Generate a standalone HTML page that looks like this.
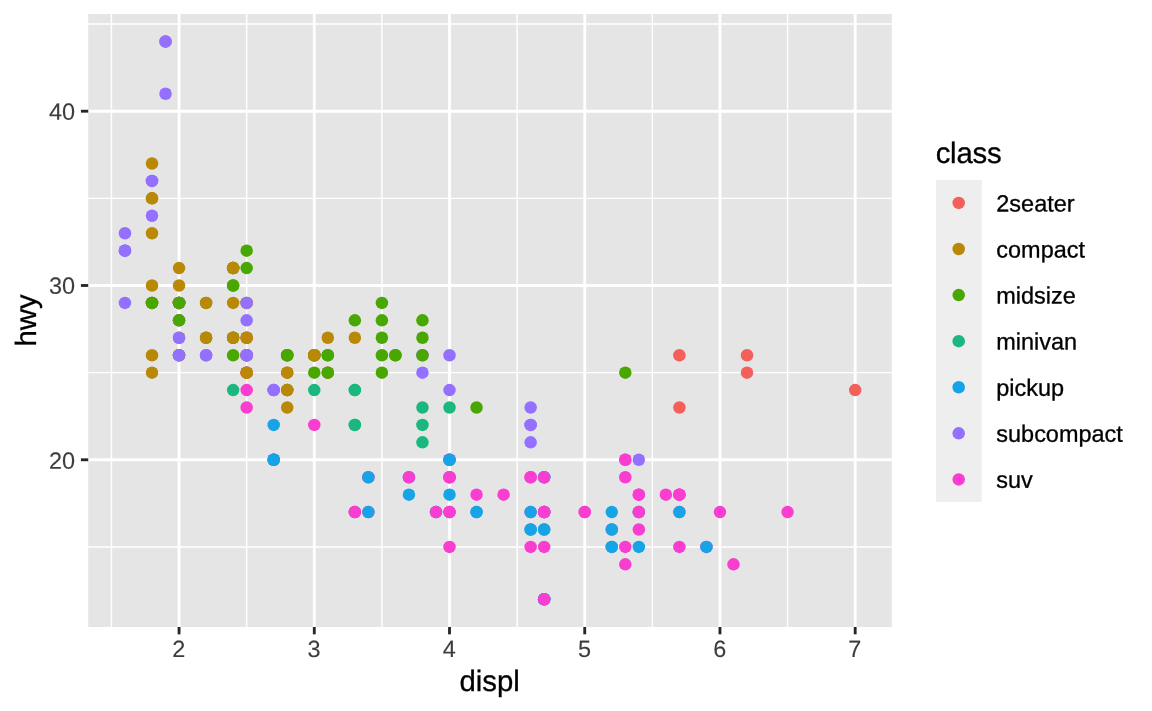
<!DOCTYPE html>
<html lang="en">
<head>
<meta charset="utf-8">
<title>displ vs hwy by class</title>
<style>
html,body{margin:0;padding:0;background:#ffffff;}
body{width:1152px;height:711px;overflow:hidden;}
svg{display:block;}
text{font-family:"Liberation Sans",Arial,Helvetica,sans-serif;}
.ax{font-size:23.47px;fill:#3d3d3d;stroke:#3d3d3d;stroke-width:0.12px;}
.ti{font-size:29.33px;fill:#000000;stroke:#000000;stroke-width:0.3px;}
.lg{font-size:23.47px;fill:#000000;stroke:#000000;stroke-width:0.3px;}
</style>
</head>
<body>
<svg width="1152" height="711" viewBox="0 0 1152 711">
<rect x="0" y="0" width="1152" height="711" fill="#ffffff"/>
<rect x="88.25" y="14" width="803.55" height="613" fill="#e5e5e5"/>
<g stroke="#ffffff" stroke-width="1.42" fill="none">
<line x1="88.25" x2="891.8" y1="546.93" y2="546.93"/>
<line x1="88.25" x2="891.8" y1="372.64" y2="372.64"/>
<line x1="88.25" x2="891.8" y1="198.35" y2="198.35"/>
<line x1="88.25" x2="891.8" y1="24.06" y2="24.06"/>
<line x1="111.44" x2="111.44" y1="14" y2="627"/>
<line x1="246.67" x2="246.67" y1="14" y2="627"/>
<line x1="381.89" x2="381.89" y1="14" y2="627"/>
<line x1="517.12" x2="517.12" y1="14" y2="627"/>
<line x1="652.35" x2="652.35" y1="14" y2="627"/>
<line x1="787.58" x2="787.58" y1="14" y2="627"/>
</g>
<g stroke="#ffffff" stroke-width="2.85" fill="none">
<line x1="88.25" x2="891.8" y1="459.78" y2="459.78"/>
<line x1="88.25" x2="891.8" y1="285.49" y2="285.49"/>
<line x1="88.25" x2="891.8" y1="111.2" y2="111.2"/>
<line x1="179.05" x2="179.05" y1="14" y2="627"/>
<line x1="314.28" x2="314.28" y1="14" y2="627"/>
<line x1="449.51" x2="449.51" y1="14" y2="627"/>
<line x1="584.73" x2="584.73" y1="14" y2="627"/>
<line x1="719.96" x2="719.96" y1="14" y2="627"/>
<line x1="855.19" x2="855.19" y1="14" y2="627"/>
</g>
<g>
<circle cx="152.01" cy="302.92" r="6.25" fill="#b88806"/>
<circle cx="152.01" cy="302.92" r="6.25" fill="#b88806"/>
<circle cx="179.05" cy="268.06" r="6.25" fill="#b88806"/>
<circle cx="179.05" cy="285.49" r="6.25" fill="#b88806"/>
<circle cx="287.23" cy="355.21" r="6.25" fill="#b88806"/>
<circle cx="287.23" cy="355.21" r="6.25" fill="#b88806"/>
<circle cx="327.8" cy="337.78" r="6.25" fill="#b88806"/>
<circle cx="152.01" cy="355.21" r="6.25" fill="#b88806"/>
<circle cx="152.01" cy="372.64" r="6.25" fill="#b88806"/>
<circle cx="179.05" cy="320.35" r="6.25" fill="#b88806"/>
<circle cx="179.05" cy="337.78" r="6.25" fill="#b88806"/>
<circle cx="287.23" cy="372.64" r="6.25" fill="#b88806"/>
<circle cx="287.23" cy="372.64" r="6.25" fill="#b88806"/>
<circle cx="327.8" cy="372.64" r="6.25" fill="#b88806"/>
<circle cx="327.8" cy="372.64" r="6.25" fill="#b88806"/>
<circle cx="287.23" cy="390.07" r="6.25" fill="#48a702"/>
<circle cx="327.8" cy="372.64" r="6.25" fill="#48a702"/>
<circle cx="476.55" cy="407.49" r="6.25" fill="#48a702"/>
<circle cx="625.3" cy="459.78" r="6.25" fill="#f93dd0"/>
<circle cx="625.3" cy="546.93" r="6.25" fill="#f93dd0"/>
<circle cx="625.3" cy="459.78" r="6.25" fill="#f93dd0"/>
<circle cx="679.39" cy="512.07" r="6.25" fill="#f93dd0"/>
<circle cx="719.96" cy="512.07" r="6.25" fill="#f93dd0"/>
<circle cx="679.39" cy="355.21" r="6.25" fill="#f35f5a"/>
<circle cx="679.39" cy="407.49" r="6.25" fill="#f35f5a"/>
<circle cx="747.01" cy="355.21" r="6.25" fill="#f35f5a"/>
<circle cx="747.01" cy="372.64" r="6.25" fill="#f35f5a"/>
<circle cx="855.19" cy="390.07" r="6.25" fill="#f35f5a"/>
<circle cx="625.3" cy="477.21" r="6.25" fill="#f93dd0"/>
<circle cx="625.3" cy="564.36" r="6.25" fill="#f93dd0"/>
<circle cx="679.39" cy="546.93" r="6.25" fill="#f93dd0"/>
<circle cx="787.58" cy="512.07" r="6.25" fill="#f93dd0"/>
<circle cx="233.14" cy="337.78" r="6.25" fill="#48a702"/>
<circle cx="233.14" cy="285.49" r="6.25" fill="#48a702"/>
<circle cx="327.8" cy="355.21" r="6.25" fill="#48a702"/>
<circle cx="381.89" cy="302.92" r="6.25" fill="#48a702"/>
<circle cx="395.42" cy="355.21" r="6.25" fill="#48a702"/>
<circle cx="233.14" cy="390.07" r="6.25" fill="#1ab77f"/>
<circle cx="314.28" cy="390.07" r="6.25" fill="#1ab77f"/>
<circle cx="354.85" cy="424.92" r="6.25" fill="#1ab77f"/>
<circle cx="354.85" cy="424.92" r="6.25" fill="#1ab77f"/>
<circle cx="354.85" cy="390.07" r="6.25" fill="#1ab77f"/>
<circle cx="354.85" cy="390.07" r="6.25" fill="#1ab77f"/>
<circle cx="354.85" cy="512.07" r="6.25" fill="#1ab77f"/>
<circle cx="422.46" cy="424.92" r="6.25" fill="#1ab77f"/>
<circle cx="422.46" cy="442.35" r="6.25" fill="#1ab77f"/>
<circle cx="422.46" cy="407.49" r="6.25" fill="#1ab77f"/>
<circle cx="449.51" cy="407.49" r="6.25" fill="#1ab77f"/>
<circle cx="408.94" cy="477.21" r="6.25" fill="#16a4e6"/>
<circle cx="408.94" cy="494.64" r="6.25" fill="#16a4e6"/>
<circle cx="435.98" cy="512.07" r="6.25" fill="#16a4e6"/>
<circle cx="435.98" cy="512.07" r="6.25" fill="#16a4e6"/>
<circle cx="544.17" cy="477.21" r="6.25" fill="#16a4e6"/>
<circle cx="544.17" cy="477.21" r="6.25" fill="#16a4e6"/>
<circle cx="544.17" cy="599.21" r="6.25" fill="#16a4e6"/>
<circle cx="611.78" cy="512.07" r="6.25" fill="#16a4e6"/>
<circle cx="611.78" cy="546.93" r="6.25" fill="#16a4e6"/>
<circle cx="435.98" cy="512.07" r="6.25" fill="#f93dd0"/>
<circle cx="544.17" cy="512.07" r="6.25" fill="#f93dd0"/>
<circle cx="544.17" cy="599.21" r="6.25" fill="#f93dd0"/>
<circle cx="544.17" cy="512.07" r="6.25" fill="#f93dd0"/>
<circle cx="611.78" cy="529.5" r="6.25" fill="#f93dd0"/>
<circle cx="679.39" cy="494.64" r="6.25" fill="#f93dd0"/>
<circle cx="706.44" cy="546.93" r="6.25" fill="#f93dd0"/>
<circle cx="544.17" cy="529.5" r="6.25" fill="#16a4e6"/>
<circle cx="544.17" cy="599.21" r="6.25" fill="#16a4e6"/>
<circle cx="544.17" cy="512.07" r="6.25" fill="#16a4e6"/>
<circle cx="544.17" cy="512.07" r="6.25" fill="#16a4e6"/>
<circle cx="544.17" cy="529.5" r="6.25" fill="#16a4e6"/>
<circle cx="544.17" cy="599.21" r="6.25" fill="#16a4e6"/>
<circle cx="611.78" cy="546.93" r="6.25" fill="#16a4e6"/>
<circle cx="611.78" cy="529.5" r="6.25" fill="#16a4e6"/>
<circle cx="679.39" cy="512.07" r="6.25" fill="#16a4e6"/>
<circle cx="706.44" cy="546.93" r="6.25" fill="#16a4e6"/>
<circle cx="530.64" cy="512.07" r="6.25" fill="#f93dd0"/>
<circle cx="638.83" cy="512.07" r="6.25" fill="#f93dd0"/>
<circle cx="638.83" cy="494.64" r="6.25" fill="#f93dd0"/>
<circle cx="449.51" cy="512.07" r="6.25" fill="#f93dd0"/>
<circle cx="449.51" cy="477.21" r="6.25" fill="#f93dd0"/>
<circle cx="449.51" cy="512.07" r="6.25" fill="#f93dd0"/>
<circle cx="449.51" cy="477.21" r="6.25" fill="#f93dd0"/>
<circle cx="530.64" cy="477.21" r="6.25" fill="#f93dd0"/>
<circle cx="584.73" cy="512.07" r="6.25" fill="#f93dd0"/>
<circle cx="476.55" cy="512.07" r="6.25" fill="#16a4e6"/>
<circle cx="476.55" cy="512.07" r="6.25" fill="#16a4e6"/>
<circle cx="530.64" cy="529.5" r="6.25" fill="#16a4e6"/>
<circle cx="530.64" cy="529.5" r="6.25" fill="#16a4e6"/>
<circle cx="530.64" cy="512.07" r="6.25" fill="#16a4e6"/>
<circle cx="638.83" cy="546.93" r="6.25" fill="#16a4e6"/>
<circle cx="638.83" cy="512.07" r="6.25" fill="#16a4e6"/>
<circle cx="422.46" cy="355.21" r="6.25" fill="#9370ff"/>
<circle cx="422.46" cy="372.64" r="6.25" fill="#9370ff"/>
<circle cx="449.51" cy="355.21" r="6.25" fill="#9370ff"/>
<circle cx="449.51" cy="390.07" r="6.25" fill="#9370ff"/>
<circle cx="530.64" cy="442.35" r="6.25" fill="#9370ff"/>
<circle cx="530.64" cy="424.92" r="6.25" fill="#9370ff"/>
<circle cx="530.64" cy="407.49" r="6.25" fill="#9370ff"/>
<circle cx="530.64" cy="424.92" r="6.25" fill="#9370ff"/>
<circle cx="638.83" cy="459.78" r="6.25" fill="#9370ff"/>
<circle cx="124.96" cy="233.21" r="6.25" fill="#9370ff"/>
<circle cx="124.96" cy="250.63" r="6.25" fill="#9370ff"/>
<circle cx="124.96" cy="250.63" r="6.25" fill="#9370ff"/>
<circle cx="124.96" cy="302.92" r="6.25" fill="#9370ff"/>
<circle cx="124.96" cy="250.63" r="6.25" fill="#9370ff"/>
<circle cx="152.01" cy="215.78" r="6.25" fill="#9370ff"/>
<circle cx="152.01" cy="180.92" r="6.25" fill="#9370ff"/>
<circle cx="152.01" cy="180.92" r="6.25" fill="#9370ff"/>
<circle cx="179.05" cy="302.92" r="6.25" fill="#9370ff"/>
<circle cx="233.14" cy="355.21" r="6.25" fill="#48a702"/>
<circle cx="233.14" cy="337.78" r="6.25" fill="#48a702"/>
<circle cx="233.14" cy="285.49" r="6.25" fill="#48a702"/>
<circle cx="233.14" cy="268.06" r="6.25" fill="#48a702"/>
<circle cx="246.67" cy="355.21" r="6.25" fill="#48a702"/>
<circle cx="246.67" cy="355.21" r="6.25" fill="#48a702"/>
<circle cx="354.85" cy="320.35" r="6.25" fill="#48a702"/>
<circle cx="179.05" cy="355.21" r="6.25" fill="#9370ff"/>
<circle cx="179.05" cy="302.92" r="6.25" fill="#9370ff"/>
<circle cx="179.05" cy="320.35" r="6.25" fill="#9370ff"/>
<circle cx="179.05" cy="337.78" r="6.25" fill="#9370ff"/>
<circle cx="273.71" cy="390.07" r="6.25" fill="#9370ff"/>
<circle cx="273.71" cy="390.07" r="6.25" fill="#9370ff"/>
<circle cx="273.71" cy="390.07" r="6.25" fill="#9370ff"/>
<circle cx="314.28" cy="424.92" r="6.25" fill="#f93dd0"/>
<circle cx="408.94" cy="477.21" r="6.25" fill="#f93dd0"/>
<circle cx="449.51" cy="459.78" r="6.25" fill="#f93dd0"/>
<circle cx="544.17" cy="512.07" r="6.25" fill="#f93dd0"/>
<circle cx="544.17" cy="599.21" r="6.25" fill="#f93dd0"/>
<circle cx="544.17" cy="477.21" r="6.25" fill="#f93dd0"/>
<circle cx="679.39" cy="494.64" r="6.25" fill="#f93dd0"/>
<circle cx="733.48" cy="564.36" r="6.25" fill="#f93dd0"/>
<circle cx="449.51" cy="546.93" r="6.25" fill="#f93dd0"/>
<circle cx="476.55" cy="494.64" r="6.25" fill="#f93dd0"/>
<circle cx="503.6" cy="494.64" r="6.25" fill="#f93dd0"/>
<circle cx="530.64" cy="546.93" r="6.25" fill="#f93dd0"/>
<circle cx="638.83" cy="512.07" r="6.25" fill="#f93dd0"/>
<circle cx="638.83" cy="529.5" r="6.25" fill="#f93dd0"/>
<circle cx="638.83" cy="494.64" r="6.25" fill="#f93dd0"/>
<circle cx="449.51" cy="512.07" r="6.25" fill="#f93dd0"/>
<circle cx="449.51" cy="477.21" r="6.25" fill="#f93dd0"/>
<circle cx="530.64" cy="477.21" r="6.25" fill="#f93dd0"/>
<circle cx="584.73" cy="512.07" r="6.25" fill="#f93dd0"/>
<circle cx="233.14" cy="302.92" r="6.25" fill="#b88806"/>
<circle cx="233.14" cy="337.78" r="6.25" fill="#b88806"/>
<circle cx="246.67" cy="268.06" r="6.25" fill="#48a702"/>
<circle cx="246.67" cy="250.63" r="6.25" fill="#48a702"/>
<circle cx="381.89" cy="337.78" r="6.25" fill="#48a702"/>
<circle cx="381.89" cy="355.21" r="6.25" fill="#48a702"/>
<circle cx="314.28" cy="355.21" r="6.25" fill="#48a702"/>
<circle cx="314.28" cy="372.64" r="6.25" fill="#48a702"/>
<circle cx="381.89" cy="372.64" r="6.25" fill="#48a702"/>
<circle cx="354.85" cy="512.07" r="6.25" fill="#f93dd0"/>
<circle cx="354.85" cy="512.07" r="6.25" fill="#f93dd0"/>
<circle cx="449.51" cy="459.78" r="6.25" fill="#f93dd0"/>
<circle cx="665.87" cy="494.64" r="6.25" fill="#f93dd0"/>
<circle cx="327.8" cy="355.21" r="6.25" fill="#48a702"/>
<circle cx="422.46" cy="355.21" r="6.25" fill="#48a702"/>
<circle cx="422.46" cy="337.78" r="6.25" fill="#48a702"/>
<circle cx="422.46" cy="320.35" r="6.25" fill="#48a702"/>
<circle cx="625.3" cy="372.64" r="6.25" fill="#48a702"/>
<circle cx="246.67" cy="372.64" r="6.25" fill="#f93dd0"/>
<circle cx="246.67" cy="390.07" r="6.25" fill="#f93dd0"/>
<circle cx="246.67" cy="337.78" r="6.25" fill="#f93dd0"/>
<circle cx="246.67" cy="372.64" r="6.25" fill="#f93dd0"/>
<circle cx="246.67" cy="355.21" r="6.25" fill="#f93dd0"/>
<circle cx="246.67" cy="407.49" r="6.25" fill="#f93dd0"/>
<circle cx="206.1" cy="355.21" r="6.25" fill="#9370ff"/>
<circle cx="206.1" cy="355.21" r="6.25" fill="#9370ff"/>
<circle cx="246.67" cy="355.21" r="6.25" fill="#9370ff"/>
<circle cx="246.67" cy="355.21" r="6.25" fill="#9370ff"/>
<circle cx="246.67" cy="372.64" r="6.25" fill="#b88806"/>
<circle cx="246.67" cy="337.78" r="6.25" fill="#b88806"/>
<circle cx="246.67" cy="372.64" r="6.25" fill="#b88806"/>
<circle cx="246.67" cy="337.78" r="6.25" fill="#b88806"/>
<circle cx="273.71" cy="459.78" r="6.25" fill="#f93dd0"/>
<circle cx="273.71" cy="459.78" r="6.25" fill="#f93dd0"/>
<circle cx="368.37" cy="477.21" r="6.25" fill="#f93dd0"/>
<circle cx="368.37" cy="512.07" r="6.25" fill="#f93dd0"/>
<circle cx="449.51" cy="459.78" r="6.25" fill="#f93dd0"/>
<circle cx="544.17" cy="512.07" r="6.25" fill="#f93dd0"/>
<circle cx="206.1" cy="302.92" r="6.25" fill="#48a702"/>
<circle cx="206.1" cy="337.78" r="6.25" fill="#48a702"/>
<circle cx="233.14" cy="268.06" r="6.25" fill="#48a702"/>
<circle cx="233.14" cy="268.06" r="6.25" fill="#48a702"/>
<circle cx="314.28" cy="355.21" r="6.25" fill="#48a702"/>
<circle cx="314.28" cy="355.21" r="6.25" fill="#48a702"/>
<circle cx="381.89" cy="320.35" r="6.25" fill="#48a702"/>
<circle cx="206.1" cy="337.78" r="6.25" fill="#b88806"/>
<circle cx="206.1" cy="302.92" r="6.25" fill="#b88806"/>
<circle cx="233.14" cy="268.06" r="6.25" fill="#b88806"/>
<circle cx="233.14" cy="268.06" r="6.25" fill="#b88806"/>
<circle cx="314.28" cy="355.21" r="6.25" fill="#b88806"/>
<circle cx="314.28" cy="355.21" r="6.25" fill="#b88806"/>
<circle cx="354.85" cy="337.78" r="6.25" fill="#b88806"/>
<circle cx="152.01" cy="285.49" r="6.25" fill="#b88806"/>
<circle cx="152.01" cy="233.21" r="6.25" fill="#b88806"/>
<circle cx="152.01" cy="198.35" r="6.25" fill="#b88806"/>
<circle cx="152.01" cy="163.49" r="6.25" fill="#b88806"/>
<circle cx="152.01" cy="198.35" r="6.25" fill="#b88806"/>
<circle cx="544.17" cy="546.93" r="6.25" fill="#f93dd0"/>
<circle cx="679.39" cy="494.64" r="6.25" fill="#f93dd0"/>
<circle cx="273.71" cy="459.78" r="6.25" fill="#16a4e6"/>
<circle cx="273.71" cy="459.78" r="6.25" fill="#16a4e6"/>
<circle cx="273.71" cy="424.92" r="6.25" fill="#16a4e6"/>
<circle cx="368.37" cy="512.07" r="6.25" fill="#16a4e6"/>
<circle cx="368.37" cy="477.21" r="6.25" fill="#16a4e6"/>
<circle cx="449.51" cy="494.64" r="6.25" fill="#16a4e6"/>
<circle cx="449.51" cy="459.78" r="6.25" fill="#16a4e6"/>
<circle cx="179.05" cy="302.92" r="6.25" fill="#b88806"/>
<circle cx="179.05" cy="355.21" r="6.25" fill="#b88806"/>
<circle cx="179.05" cy="302.92" r="6.25" fill="#b88806"/>
<circle cx="179.05" cy="302.92" r="6.25" fill="#b88806"/>
<circle cx="287.23" cy="390.07" r="6.25" fill="#b88806"/>
<circle cx="165.53" cy="41.49" r="6.25" fill="#b88806"/>
<circle cx="179.05" cy="302.92" r="6.25" fill="#b88806"/>
<circle cx="179.05" cy="355.21" r="6.25" fill="#b88806"/>
<circle cx="179.05" cy="302.92" r="6.25" fill="#b88806"/>
<circle cx="179.05" cy="302.92" r="6.25" fill="#b88806"/>
<circle cx="246.67" cy="302.92" r="6.25" fill="#b88806"/>
<circle cx="246.67" cy="302.92" r="6.25" fill="#b88806"/>
<circle cx="287.23" cy="407.49" r="6.25" fill="#b88806"/>
<circle cx="287.23" cy="390.07" r="6.25" fill="#b88806"/>
<circle cx="165.53" cy="41.49" r="6.25" fill="#9370ff"/>
<circle cx="165.53" cy="93.77" r="6.25" fill="#9370ff"/>
<circle cx="179.05" cy="302.92" r="6.25" fill="#9370ff"/>
<circle cx="179.05" cy="355.21" r="6.25" fill="#9370ff"/>
<circle cx="246.67" cy="320.35" r="6.25" fill="#9370ff"/>
<circle cx="246.67" cy="302.92" r="6.25" fill="#9370ff"/>
<circle cx="152.01" cy="302.92" r="6.25" fill="#48a702"/>
<circle cx="152.01" cy="302.92" r="6.25" fill="#48a702"/>
<circle cx="179.05" cy="320.35" r="6.25" fill="#48a702"/>
<circle cx="179.05" cy="302.92" r="6.25" fill="#48a702"/>
<circle cx="287.23" cy="355.21" r="6.25" fill="#48a702"/>
<circle cx="287.23" cy="355.21" r="6.25" fill="#48a702"/>
<circle cx="395.42" cy="355.21" r="6.25" fill="#48a702"/>
</g>
<g stroke="#262626" stroke-width="2.85" fill="none">
<line x1="80.92" x2="88.25" y1="459.78" y2="459.78"/>
<line x1="80.92" x2="88.25" y1="285.49" y2="285.49"/>
<line x1="80.92" x2="88.25" y1="111.2" y2="111.2"/>
<line x1="179.05" x2="179.05" y1="627" y2="634.33"/>
<line x1="314.28" x2="314.28" y1="627" y2="634.33"/>
<line x1="449.51" x2="449.51" y1="627" y2="634.33"/>
<line x1="584.73" x2="584.73" y1="627" y2="634.33"/>
<line x1="719.96" x2="719.96" y1="627" y2="634.33"/>
<line x1="855.19" x2="855.19" y1="627" y2="634.33"/>
</g>
<text class="ax" x="75" y="468.8" text-anchor="end" transform="rotate(0.03 75 468.8)">20</text>
<text class="ax" x="75" y="293.7" text-anchor="end" transform="rotate(0.03 75 293.7)">30</text>
<text class="ax" x="75" y="119.7" text-anchor="end" transform="rotate(0.03 75 119.7)">40</text>
<text class="ax" x="178.75" y="657" text-anchor="middle" transform="rotate(0.03 178.75 657)">2</text>
<text class="ax" x="313.98" y="657" text-anchor="middle" transform="rotate(0.03 313.98 657)">3</text>
<text class="ax" x="449.21" y="657" text-anchor="middle" transform="rotate(0.03 449.21 657)">4</text>
<text class="ax" x="584.43" y="657" text-anchor="middle" transform="rotate(0.03 584.43 657)">5</text>
<text class="ax" x="719.66" y="657" text-anchor="middle" transform="rotate(0.03 719.66 657)">6</text>
<text class="ax" x="854.89" y="657" text-anchor="middle" transform="rotate(0.03 854.89 657)">7</text>
<text class="ti" x="489.6" y="691" text-anchor="middle" transform="rotate(0.03 489.6 691)">displ</text>
<text class="ti" transform="translate(36 320.5) rotate(-89.97)" text-anchor="middle">hwy</text>
<text letter-spacing="-0.2" class="ti" x="935.65" y="163" transform="rotate(0.03 935.65 163)">class</text>
<rect x="936.1" y="179.9" width="45.7" height="322" fill="#eeeeee"/>
<circle cx="958.7" cy="202.9" r="6.25" fill="#f35f5a"/>
<text class="lg" x="996.3" y="211.4" transform="rotate(0.03 996.3 211.4)">2seater</text>
<circle cx="958.7" cy="248.98" r="6.25" fill="#b88806"/>
<text class="lg" x="996.3" y="257.46" transform="rotate(0.03 996.3 257.46)">compact</text>
<circle cx="958.7" cy="295.06" r="6.25" fill="#48a702"/>
<text class="lg" x="996.3" y="303.52" transform="rotate(0.03 996.3 303.52)">midsize</text>
<circle cx="958.7" cy="341.14" r="6.25" fill="#1ab77f"/>
<text class="lg" x="996.3" y="349.58" transform="rotate(0.03 996.3 349.58)">minivan</text>
<circle cx="958.7" cy="387.22" r="6.25" fill="#16a4e6"/>
<text class="lg" x="996.3" y="395.64" transform="rotate(0.03 996.3 395.64)">pickup</text>
<circle cx="958.7" cy="433.3" r="6.25" fill="#9370ff"/>
<text class="lg" x="996.3" y="441.7" transform="rotate(0.03 996.3 441.7)">subcompact</text>
<circle cx="958.7" cy="479.38" r="6.25" fill="#f93dd0"/>
<text class="lg" x="996.3" y="487.76" transform="rotate(0.03 996.3 487.76)">suv</text>
</svg>
</body>
</html>
